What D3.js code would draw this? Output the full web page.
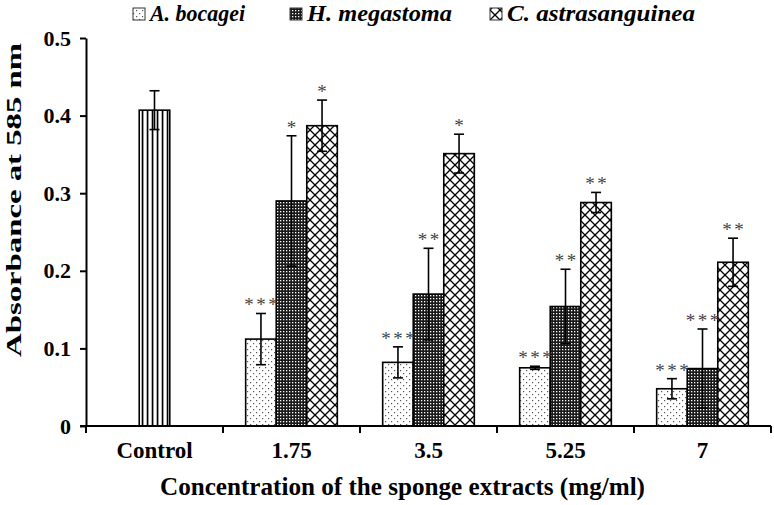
<!DOCTYPE html>
<html><head><meta charset="utf-8">
<script src="https://cdn.jsdelivr.net/npm/d3@7"></script>
<style>body{margin:0;background:#fff}svg{display:block}</style>
</head><body>
<svg id="c" width="774" height="505"></svg>
<script>
const categories = ["Control","1.75","3.5","5.25","7"];
const seriesNames = ["A. bocagei","H. megastoma","C. astrasanguinea"];
const controlValue = 0.407, controlSd = 0.025;
const aBocagei = [0.112, 0.082, 0.075, 0.048];
const aBocageiSd = [0.033, 0.020, 0.002, 0.013];
const hMegastoma = [0.290, 0.170, 0.154, 0.074];
const hMegastomaSd = [0.084, 0.059, 0.048, 0.051];
const cAstra = [0.387, 0.351, 0.288, 0.211];
const cAstraSd = [0.033, 0.025, 0.013, 0.031];
const aStars = ["***","***","***","***"];
const hStars = ["*","**","**","***"];
const cStars = ["*","*","**","**"];
const yTicks = [0,0.1,0.2,0.3,0.4,0.5];

const svg = d3.select("#c");
const FONT = "'Liberation Serif','Times New Roman',serif";
const defs = svg.append("defs");
// patterns
let p = defs.append("pattern").attr("id","pStripe").attr("patternUnits","userSpaceOnUse").attr("width",5).attr("height",10);
p.append("rect").attr("width",5).attr("height",10).attr("fill","#fff");
p.append("rect").attr("x",1.7).attr("width",1.7).attr("height",10).attr("fill","#000");
p = defs.append("pattern").attr("id","pDots").attr("patternUnits","userSpaceOnUse").attr("width",6).attr("height",6);
p.append("rect").attr("width",6).attr("height",6).attr("fill","#fff");
p.append("rect").attr("x",1).attr("y",1).attr("width",1.2).attr("height",1.2).attr("fill","#555");
p.append("rect").attr("x",4).attr("y",4).attr("width",1.2).attr("height",1.2).attr("fill","#555");
p = defs.append("pattern").attr("id","pDense").attr("patternUnits","userSpaceOnUse").attr("width",3).attr("height",3);
p.append("rect").attr("width",3).attr("height",3).attr("fill","#1a1a1a");
p.append("rect").attr("x",1).attr("y",1).attr("width",1.3).attr("height",1.3).attr("fill","#fff");
p = defs.append("pattern").attr("id","pCross").attr("patternUnits","userSpaceOnUse").attr("width",10).attr("height",10);
p.append("rect").attr("width",10).attr("height",10).attr("fill","#fff");
p.append("path").attr("d","M0,0L10,10M10,0L0,10").attr("stroke","#000").attr("stroke-width",1.3);
const fills = ["url(#pDots)","url(#pDense)","url(#pCross)"];

const x = d3.scaleBand().domain(categories).range([86,771]).padding(0);
const y = d3.scaleLinear().domain([0,0.5]).range([426,38]);
const bw = x.bandwidth()*0.223;

// data rows
const rows = [{cat:"Control", off:0, v:controlValue, sd:controlSd, fill:"url(#pStripe)", star:""}];
const sv = [aBocagei,hMegastoma,cAstra], ssd=[aBocageiSd,hMegastomaSd,cAstraSd], sst=[aStars,hStars,cStars];
categories.slice(1).forEach((c,i)=>{
  for(let s=0;s<3;s++) rows.push({cat:c, off:s-1, v:sv[s][i], sd:ssd[s][i], fill:fills[s], star:sst[s][i]});
});
const cx = d => x(d.cat)+x.bandwidth()/2 + d.off*bw;

const g = svg.append("g");
g.selectAll("rect.bar").data(rows).join("rect").attr("class","bar")
  .attr("x",d=>cx(d)-bw/2).attr("width",bw)
  .attr("y",d=>y(d.v)).attr("height",d=>y(0)-y(d.v))
  .attr("fill",d=>d.fill).attr("stroke","#000").attr("stroke-width",1.6);

// error bars
const eb = g.selectAll("g.eb").data(rows).join("g").attr("stroke","#000").attr("stroke-width",1.6);
eb.append("line").attr("x1",cx).attr("x2",cx).attr("y1",d=>y(d.v+d.sd)).attr("y2",d=>y(d.v-d.sd));
eb.append("line").attr("x1",d=>cx(d)-5).attr("x2",d=>cx(d)+5).attr("y1",d=>y(d.v+d.sd)).attr("y2",d=>y(d.v+d.sd));
eb.append("line").attr("x1",d=>cx(d)-5).attr("x2",d=>cx(d)+5).attr("y1",d=>y(d.v-d.sd)).attr("y2",d=>y(d.v-d.sd));

// stars
const LS = 2.5;
g.selectAll("text.star").data(rows.filter(d=>d.star)).join("text").attr("class","star")
  .attr("x",d=>cx(d)+LS/2).attr("y",d=>y(d.v+d.sd)-2)
  .attr("text-anchor","middle").attr("font-family",FONT).attr("font-size",19)
  .attr("letter-spacing",LS).attr("fill","#444").text(d=>d.star);

// y axis
const ya = svg.append("g").attr("transform","translate(86,0)")
  .call(d3.axisLeft(y).tickValues(yTicks).tickSize(6).tickSizeOuter(0).tickPadding(9)
    .tickFormat(d=>d===0?"0":d3.format(".1f")(d)));
ya.selectAll("path,line").attr("stroke","#000").attr("stroke-width",2);
ya.selectAll("text").attr("font-family",FONT).attr("font-size",22).attr("font-weight","bold").attr("fill","#000");

// x axis
const xa = svg.append("g");
xa.append("line").attr("x1",80).attr("x2",x.range()[1]).attr("y1",y(0)).attr("y2",y(0)).attr("stroke","#000").attr("stroke-width",2);
const bounds = categories.map(c=>x(c)).concat([x.range()[1]]);
xa.selectAll("line.t").data(bounds).join("line").attr("class","t")
  .attr("x1",d=>d).attr("x2",d=>d).attr("y1",y(0)).attr("y2",y(0)+7).attr("stroke","#000").attr("stroke-width",2);
xa.selectAll("text").data(categories).join("text")
  .attr("x",d=>x(d)+x.bandwidth()/2).attr("y",458).attr("text-anchor","middle")
  .attr("font-family",FONT).attr("font-size",23).attr("font-weight","bold").text(d=>d);

// axis titles
svg.append("text").attr("x",160).attr("y",495).attr("font-family",FONT).attr("font-size",26)
  .attr("font-weight","bold").attr("textLength",485).attr("lengthAdjust","spacingAndGlyphs")
  .text("Concentration of the sponge extracts (mg/ml)");
svg.append("text").attr("transform","translate(21,357) rotate(-90)").attr("font-family",FONT).attr("font-size",22)
  .attr("font-weight","bold").attr("textLength",314).attr("lengthAdjust","spacingAndGlyphs")
  .text("Absorbance at 585 nm");

// legend
const legX = [{t:150,w:95},{t:307,w:145},{t:507,w:188}];
const leg = svg.append("g");
seriesNames.forEach((n,i)=>{
  leg.append("rect").attr("x",legX[i].t-17).attr("y",8).attr("width",12).attr("height",12)
    .attr("fill",fills[i]).attr("stroke","#333").attr("stroke-width",1);
  leg.append("text").attr("x",legX[i].t).attr("y",21).attr("font-family",FONT).attr("font-size",24)
    .attr("font-weight","bold").attr("font-style","italic").attr("textLength",legX[i].w)
    .attr("lengthAdjust","spacingAndGlyphs").text(n);
});
</script>
</body></html>
